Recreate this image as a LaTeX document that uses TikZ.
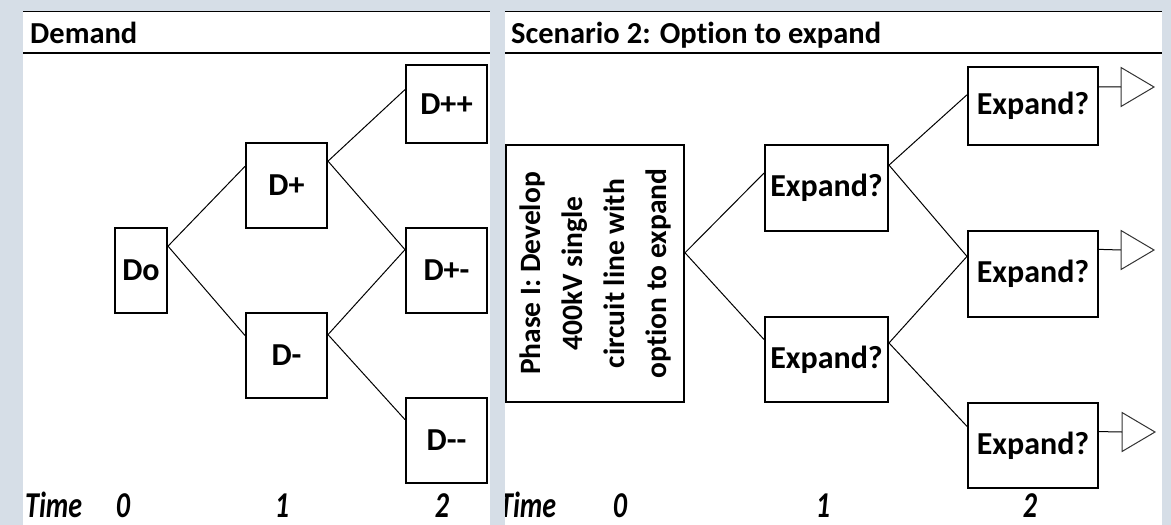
\documentclass[tikz,border=0pt]{standalone}
\usepackage{fontspec}
\setmainfont{Carlito}[Ligatures={TeX,NoCommon}]
\usetikzlibrary{calc}
\definecolor{PageGrey}{HTML}{D6DEE7}
\newcommand\stagefont{\fontsize{32}{38}\selectfont\bfseries}
\newcommand\headfont{\fontsize{30.5}{36}\selectfont\bfseries}
\newcommand\timefont{\fontsize{28}{32}\selectfont\bfseries\itshape}
\newcommand\tall[1]{\scalebox{1}[1.3]{#1}}

\begin{document}
\begin{tikzpicture}[x=1pt,y=-1pt,
  stage/.style={draw,line width=2pt,inner sep=0pt,font=\stagefont,minimum width=81,minimum height=85},
  link/.style={line width=1pt},
  endtri/.style={line width=1pt,draw=black!80},
  toprule/.style={line width=1.5pt},
  headrule/.style={line width=2.5pt},
  headlab/.style={font=\headfont,anchor=base west,inner sep=0pt},
  timelab/.style={font=\timefont,anchor=base,inner sep=0pt}
]
% page and panels
\fill[PageGrey] (0,0) rectangle (1171,525);
\useasboundingbox (0,0) rectangle (1171,525);
\fill[white] (23,11) rectangle (490,525);
\fill[white] (505,11) rectangle (1162,525);
\draw[toprule] (23,11.5) -- (490,11.5);
\draw[toprule] (505,11.5) -- (1162,11.5);
\draw[headrule] (23,53) -- (490,53);
\draw[headrule] (505,53) -- (1162,53);
\node[headlab] (demandhead) at (30,43) {Demand};
\node[headlab] (optionhead) at (511,43) {Scenario 2: Option to expand};

% demand tree
\node[stage,minimum width=52] (do) at (141,270.5) {Do};
\node[stage] (dp) at (286.5,185.5) {D+};
\node[stage] (dm) at (286.5,355.5) {D-};
\node[stage,minimum height=78] (dpp) at (446.5,104) {D++};
\node[stage] (dpm) at (446.5,270.5) {D+-};
\node[stage] (dmm) at (446.5,440.5) {D-{}-};
\draw[link] ($(do.north east)!.22!(do.south east)$) -- ($(dp.north west)!.28!(dp.south west)$);
\draw[link] ($(do.north east)!.22!(do.south east)$) -- ($(dm.north west)!.27!(dm.south west)$);
\draw[link] ($(dp.north east)!.22!(dp.south east)$) -- ($(dpp.north west)!.32!(dpp.south west)$);
\draw[link] ($(dp.north east)!.22!(dp.south east)$) -- ($(dpm.north west)!.26!(dpm.south west)$);
\draw[link] ($(dm.north east)!.26!(dm.south east)$) -- ($(dpm.north west)!.26!(dpm.south west)$);
\draw[link] ($(dm.north east)!.26!(dm.south east)$) -- ($(dmm.north west)!.26!(dmm.south west)$);

% option tree
\node[stage,minimum width=178,minimum height=257] (phase) at (595,273.5)
  {\rotatebox{90}{\parbox{250pt}{\centering\fontsize{29.5}{42}\selectfont
   Phase I: Develop\\400kV single\\circuit line with\\option to expand}}};
\node[stage,minimum width=123,minimum height=86] (ex1a) at (826.5,188) {Expand?};
\node[stage,minimum width=123] (ex1b) at (826.5,359.5) {Expand?};
\node[stage,minimum width=130,minimum height=78] (ex2a) at (1033,106) {Expand?};
\node[stage,minimum width=130,minimum height=86] (ex2b) at (1033,274) {Expand?};
\node[stage,minimum width=130] (ex2c) at (1033,445.5) {Expand?};
\draw[link] ($(phase.north east)!.42!(phase.south east)$) -- ($(ex1a.north west)!.33!(ex1a.south west)$);
\draw[link] ($(phase.north east)!.42!(phase.south east)$) -- ($(ex1b.north west)!.27!(ex1b.south west)$);
\draw[link] ($(ex1a.north east)!.24!(ex1a.south east)$) -- ($(ex2a.north west)!.36!(ex2a.south west)$);
\draw[link] ($(ex1a.north east)!.24!(ex1a.south east)$) -- ($(ex2b.north west)!.30!(ex2b.south west)$);
\draw[link] ($(ex1b.north east)!.31!(ex1b.south east)$) -- ($(ex2b.north west)!.30!(ex2b.south west)$);
\draw[link] ($(ex1b.north east)!.31!(ex1b.south east)$) -- ($(ex2c.north west)!.28!(ex2c.south west)$);

% end triangles
\coordinate (t1) at (1121,87);
\coordinate (t2) at (1121,250);
\coordinate (t3) at (1122,432);
\draw[link] ($(ex2a.north east)!.26!(ex2a.south east)$) -- (t1);
\draw[link] ($(ex2b.north east)!.22!(ex2b.south east)$) -- (t2);
\draw[link] ($(ex2c.north east)!.34!(ex2c.south east)$) -- (t3);
\foreach \t in {t1,t2,t3}
  \draw[endtri] ($(\t)+(0,-19.5)$) -- ++(33,19.5) -- ++(-33,19.5) -- cycle;

% time axes
\node[timelab,anchor=base west] (timea) at (25,517) {\tall{Time}};
\node[timelab] (ta0) at (123,517) {\tall{0}};
\node[timelab] (ta1) at (282,517) {\tall{1}};
\node[timelab] (ta2) at (442,517) {\tall{2}};
\begin{scope}
\clip (505,11) rectangle (1162,525);
\node[timelab,anchor=base west] (timeb) at (499,517) {\tall{Time}};
\end{scope}
\node[timelab] (tb0) at (620,517) {\tall{0}};
\node[timelab] (tb1) at (823,517) {\tall{1}};
\node[timelab] (tb2) at (1030,517) {\tall{2}};
\end{tikzpicture}
\end{document}
